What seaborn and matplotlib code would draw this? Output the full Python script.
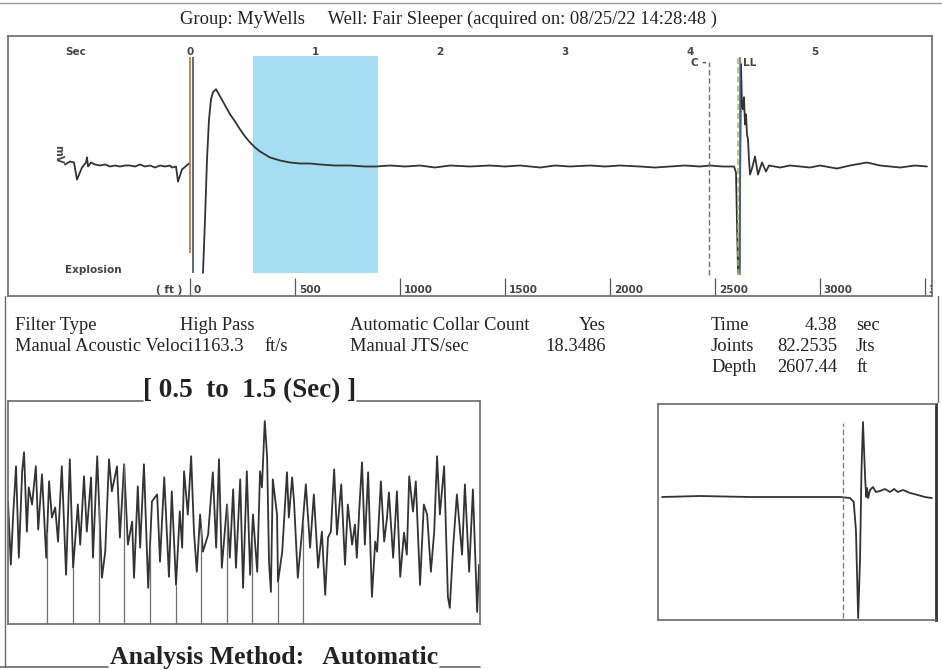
import numpy as np
import pandas as pd
import seaborn as sns
import matplotlib.pyplot as plt
from matplotlib.lines import Line2D

sns.set_style("white")
plt.rcParams['font.family'] = ['Liberation Serif', 'DejaVu Serif']

W, H = 942, 670

# report values
group_name = "MyWells"
well_name = "Fair Sleeper"
acquired = "08/25/22 14:28:48"
filter_type = "High Pass"
velocity = 1163.3
collar_count = "Yes"
jts_per_sec = 18.3486
ll_time = 4.38
joints = 82.2535
depth = 2607.44
collar_time = 4.15
window = (0.5, 1.5)

sec_ticks = [0, 1, 2, 3, 4, 5]
ft_ticks = [0, 500, 1000, 1500, 2000, 2500, 3000, 3500]
ft_per_sec = depth / ll_time

# acoustic trace, before the shot
pre_t = [-1.000, -0.960, -0.928, -0.904, -0.864, -0.832, -0.824, -0.816, -0.792,
         -0.760, -0.720, -0.680, -0.640, -0.600, -0.560, -0.520, -0.480, -0.440,
         -0.400, -0.360, -0.320, -0.280, -0.240, -0.200, -0.160, -0.144, -0.112,
         -0.096, -0.064, -0.008]
pre_mv = [2, 5, 4, -13, -1, 4, 9, 0, 4, 2, 1, 2, 0, 1, 0, 1, 1, 0, 2, 0, 1, -1, 1,
          0, 1, -1, 0, -15, -3, 3]

# acoustic trace, after the shot
post_t = [0.104, 0.120, 0.136, 0.152, 0.168, 0.184, 0.208, 0.240, 0.280, 0.320,
          0.360, 0.400, 0.440, 0.480, 0.520, 0.560, 0.600, 0.640, 0.720, 0.800,
          0.880, 0.960, 1.040, 1.160, 1.280, 1.400, 1.488, 1.600, 1.720, 1.840,
          1.960, 2.080, 2.240, 2.400, 2.520, 2.640, 2.800, 2.920, 3.040, 3.200,
          3.320, 3.440, 3.600, 3.720, 3.840, 3.960, 4.080, 4.160, 4.260, 4.352,
          4.368, 4.384, 4.396, 4.408, 4.416, 4.424, 4.432, 4.440, 4.448, 4.456,
          4.464, 4.472, 4.480, 4.496, 4.520, 4.544, 4.576, 4.608, 4.632, 4.720,
          4.800, 4.880, 4.960, 5.040, 5.176, 5.280, 5.416, 5.520, 5.600, 5.680,
          5.800, 5.896]
post_mv = [-106, -53, 7, 47, 67, 74, 77, 70, 61, 52,
           45, 37, 30, 24, 19, 15, 12, 9, 6, 4,
           3, 3, 2, 1, 1, 0, 0, 1, 0, 1,
           -1, 1, 0, 1, 0, 1, -1, 1, 0, 1,
           0, 1, 0, -1, 0, 1, 0, 1, 0, 0,
           -6, -106, -100, 102, 60, 57, 69, 42, 52, 32,
           27, 7, -8, -2, 10, -8, 4, -5, 1, -1,
           1, 0, -1, 1, -2, 1, 4, 1, 0, -1,
           1, 0]

# 0.5 - 1.5 sec window, filtered
win_t = [0.500, 0.506, 0.511, 0.517, 0.523, 0.530, 0.534, 0.540, 0.544, 0.551,
         0.559, 0.564, 0.572, 0.581, 0.587, 0.593, 0.600, 0.606, 0.614, 0.623,
         0.631, 0.638, 0.648, 0.653, 0.661, 0.667, 0.676, 0.680, 0.689, 0.699,
         0.706, 0.714, 0.720, 0.731, 0.737, 0.746, 0.754, 0.763, 0.767, 0.775,
         0.780, 0.788, 0.797, 0.805, 0.816, 0.822, 0.831, 0.841, 0.847, 0.856,
         0.864, 0.869, 0.873, 0.881, 0.888, 0.894, 0.900, 0.907, 0.913, 0.924,
         0.934, 0.941, 0.947, 0.953, 0.964, 0.970, 0.977, 0.983, 0.992, 0.998,
         1.006, 1.013, 1.019, 1.028, 1.034, 1.038, 1.044, 1.049, 1.053, 1.057,
         1.061, 1.070, 1.072, 1.081, 1.091, 1.095, 1.102, 1.106, 1.114, 1.123,
         1.131, 1.140, 1.148, 1.157, 1.165, 1.172, 1.178, 1.184, 1.191, 1.197,
         1.206, 1.214, 1.220, 1.229, 1.235, 1.239, 1.244, 1.250, 1.256, 1.263,
         1.271, 1.278, 1.282, 1.290, 1.297, 1.303, 1.307, 1.316, 1.324, 1.331,
         1.339, 1.345, 1.350, 1.358, 1.364, 1.373, 1.381, 1.388, 1.396, 1.403,
         1.409, 1.415, 1.424, 1.432, 1.436, 1.443, 1.451, 1.462, 1.468, 1.477,
         1.485, 1.494, 1.498]
win_mv = [8, -55, -5, 43, -48, 38, 57, -22, 22, 5,
          43, -20, 35, -48, 28, -8, 2, -32, 43, -65,
          50, -58, 5, -35, 33, -22, 32, -48, 53, -68,
          -42, 50, 18, 43, -28, 45, -35, -12, -68, 23,
          -38, 45, -78, 8, 15, -52, 32, -67, 18, -75,
          -2, -38, 38, -5, 53, -22, -62, -5, -42, -25,
          37, -38, 50, -58, 5, -48, 20, -58, 30, -78,
          38, -65, -5, -62, 38, 22, 88, 52, -52, -82,
          30, -5, -72, -42, 37, -8, 32, 8, -68, -22,
          25, -38, 15, -58, -22, -85, -28, -22, 40, -25,
          25, -55, 5, -35, -15, -48, -2, 47, -35, 37,
          -87, -32, -42, 28, -32, -8, 17, -48, 18, -67,
          -23, -45, 33, -2, 28, -75, 5, -5, -62, -22,
          53, -5, 43, -87, -98, -38, 15, -45, 25, -62,
          20, -102, -55]
collar_marks = [0.583, 0.638, 0.693, 0.746, 0.801, 0.856, 0.909, 0.964, 1.017,
                1.072, 1.125]

# liquid level close-up
ll_t = [3.891, 3.993, 4.128, 4.263, 4.371, 4.398, 4.408, 4.414, 4.420, 4.425,
        4.429, 4.433, 4.439, 4.442, 4.444, 4.447, 4.452, 4.460, 4.468, 4.479,
        4.492, 4.506, 4.517, 4.527, 4.541, 4.560, 4.581, 4.600, 4.619]
ll_mv = [0, 1, 0, 0, 0, -1, -5, -33, -121, -63,
         27, 75, 17, 0, 9, -1, 7, 10, 5, 6,
         8, 5, 8, 5, 7, 4, 2, 0, -1]


def rect(x0, y0, x1, y1):
    return [x0 / W, 1 - y1 / H, (x1 - x0) / W, (y1 - y0) / H]


def hline(fig, x0, x1, y, **kw):
    fig.add_artist(Line2D([x0 / W, x1 / W], [1 - y / H, 1 - y / H], **kw))


def vline(fig, x, y0, y1, **kw):
    fig.add_artist(Line2D([x / W, x / W], [1 - y0 / H, 1 - y1 / H], **kw))


trace_col = '#333333'
frame_col = '#6a6a6a'
lab = dict(family='DejaVu Sans', fontsize=7.5, fontweight='bold', color='#444444')

fig = plt.figure(figsize=(W / 100, H / 100), dpi=100)

# ---------- main trace ----------
ax = fig.add_axes(rect(8, 36, 932, 296))
ax.fill_between(list(window), -106, 110, color='#a6ddf0', lw=0)
sns.lineplot(x=pre_t, y=pre_mv, ax=ax, color=trace_col, lw=1.3, sort=False, estimator=None)
sns.lineplot(x=post_t, y=post_mv, ax=ax, color=trace_col, lw=1.3, sort=False, estimator=None)
ax.vlines(0.0, -86, 109, color='#b07040', lw=1.2)
ax.vlines(0.022, -106, 109, color='#46506a', lw=1.2)
ax.vlines(collar_time, -108, 104, color='#707070', lw=1, linestyles=(0, (4, 2)))
ax.vlines(ll_time, -108, 109, color='#c4ad48', lw=1.1, linestyles=(0, (4, 2)))
ax.vlines(ll_time + 0.02, -108, 109, color='#3d6fa8', lw=1.1)
ax.text(collar_time - 0.02, 103, "C -", ha='right', va='center', **lab)
ax.text(ll_time + 0.04, 103, "LL", ha='left', va='center', **lab)
for s in sec_ticks:
    ax.text(s, 114, str(s), ha='center', va='center', **lab)
ax.text(-1.0, 114, "Sec", ha='left', va='center', **lab)
ax.text(-1.0, -103, "Explosion", ha='left', va='center', **lab)
ax.text(-1.056, 12, "mV", ha='center', va='center', rotation=-90, **lab)
ax.text(-0.06, -123, "( ft )", ha='right', va='center', **lab)
ft_pos = [f / ft_per_sec for f in ft_ticks]
ax.vlines(ft_pos, -129, -111, color='#555555', lw=0.9)
for f, p in zip(ft_ticks, ft_pos):
    ax.text(p + 0.03, -123, str(f), ha='left', va='center', clip_on=True, **lab)
ax.set_xlim(-1.456, 5.936)
ax.set_ylim(-129, 130)
ax.set_xticks([])
ax.set_yticks([])
ax.set_xlabel('')
ax.set_ylabel('')
for sp in ax.spines.values():
    sp.set_color(frame_col)
    sp.set_linewidth(1.2)

# ---------- window 0.5 - 1.5 sec ----------
ax2 = fig.add_axes(rect(8, 401, 480, 624))
sns.lineplot(x=win_t, y=win_mv, ax=ax2, color=trace_col, lw=1.3, sort=False, estimator=None)
tops = np.interp(collar_marks, win_t, win_mv)
ax2.vlines(collar_marks, -114, tops, color='#6e6e6e', lw=0.9)
ax2.set_xlim(*window)
ax2.set_ylim(-114, 108)
ax2.set_xticks([])
ax2.set_yticks([])
ax2.set_xlabel('')
ax2.set_ylabel('')
ax2.spines['top'].set_visible(False)
for k in ['left', 'right', 'bottom']:
    ax2.spines[k].set_color(frame_col)
    ax2.spines[k].set_linewidth(1.2)

# ---------- liquid level close-up ----------
ax3 = fig.add_axes(rect(658, 404, 936, 620))
sns.lineplot(x=ll_t, y=ll_mv, ax=ax3, color=trace_col, lw=1.3, sort=False, estimator=None)
ax3.vlines(ll_time, -121, 74, color='#808080', lw=1, linestyles=(0, (4, 2)))
ax3.set_xlim(ll_time - 0.5, ll_time + 0.25)
ax3.set_ylim(-123, 93)
ax3.set_xticks([])
ax3.set_yticks([])
ax3.set_xlabel('')
ax3.set_ylabel('')
for sp in ax3.spines.values():
    sp.set_color(frame_col)
    sp.set_linewidth(1.2)
ax3.spines['right'].set_color('#333333')
ax3.spines['right'].set_linewidth(2)

# ---------- frame and report text ----------
hline(fig, 0, 942, 3, color='#999999', lw=1)
vline(fig, 5, 296, 667, color=frame_col, lw=1)
vline(fig, 938, 296, 402, color=frame_col, lw=1)

fig.text(448 / W, 1 - 19 / H,
         f"Group: {group_name}     Well: {well_name} (acquired on: {acquired} )",
         ha='center', va='center', fontsize=13.3, color='#222222')

txt = dict(fontsize=13.3, color='#222222', va='baseline')
rows = [330, 351, 372]
fig.text(15 / W, 1 - rows[0] / H, "Filter Type", **txt)
fig.text(180 / W, 1 - rows[0] / H, filter_type, **txt)
fig.text(15 / W, 1 - rows[1] / H, f"Manual Acoustic Veloci{velocity:.1f}", **txt)
fig.text(264 / W, 1 - rows[1] / H, "ft/s", **txt)
fig.text(350 / W, 1 - rows[0] / H, "Automatic Collar Count", **txt)
fig.text(606 / W, 1 - rows[0] / H, collar_count, ha='right', **txt)
fig.text(350 / W, 1 - rows[1] / H, "Manual JTS/sec", **txt)
fig.text(606 / W, 1 - rows[1] / H, f"{jts_per_sec:.4f}", ha='right', **txt)
right_block = [("Time", f"{ll_time:.2f}", "sec"),
               ("Joints", f"{joints:.4f}", "Jts"),
               ("Depth", f"{depth:.2f}", "ft")]
for (name, val, unit), y in zip(right_block, rows):
    fig.text(711 / W, 1 - y / H, name, **txt)
    fig.text(837 / W, 1 - y / H, val, ha='right', **txt)
    fig.text(856 / W, 1 - y / H, unit, **txt)

fig.text(250 / W, 1 - 397 / H, f"[ {window[0]}  to  {window[1]} (Sec) ]",
         ha='center', va='baseline', fontsize=19.5, fontweight='bold', color='#222222')
hline(fig, 8, 143, 401, color=frame_col, lw=1.2)
hline(fig, 357, 480, 401, color=frame_col, lw=1.2)

fig.text(274 / W, 1 - 664 / H, "Analysis Method:   Automatic",
         ha='center', va='baseline', fontsize=18.5, fontweight='bold', color='#222222')
hline(fig, 0, 108, 667, color=frame_col, lw=1.2)
hline(fig, 440, 480, 667, color=frame_col, lw=1.2)

fig.savefig('out.png', dpi=100)
